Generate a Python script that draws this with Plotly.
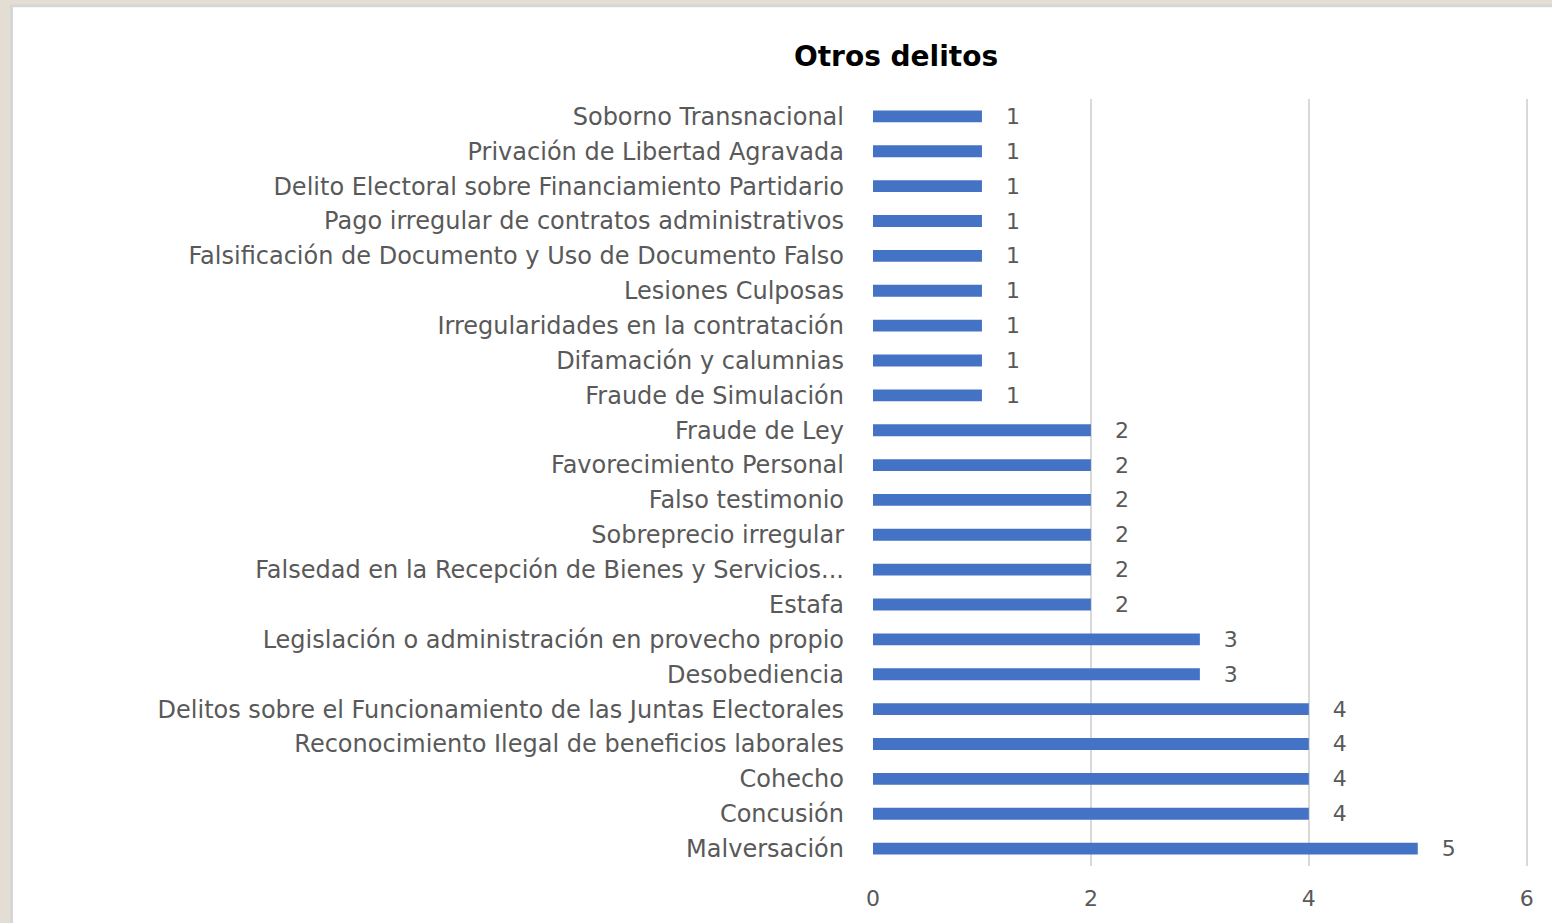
import plotly.graph_objects as go

categories = [
    "Malversación",
    "Concusión",
    "Cohecho",
    "Reconocimiento Ilegal de beneficios laborales",
    "Delitos sobre el Funcionamiento de las Juntas Electorales",
    "Desobediencia",
    "Legislación o administración en provecho propio",
    "Estafa",
    "Falsedad en la Recepción de Bienes y Servicios...",
    "Sobreprecio irregular",
    "Falso testimonio",
    "Favorecimiento Personal",
    "Fraude de Ley",
    "Fraude de Simulación",
    "Difamación y calumnias",
    "Irregularidades en la contratación",
    "Lesiones Culposas",
    "Falsificación de Documento y Uso de Documento Falso",
    "Pago irregular de contratos administrativos",
    "Delito Electoral sobre Financiamiento Partidario",
    "Privación de Libertad Agravada",
    "Soborno Transnacional",
]
values = [5, 4, 4, 4, 4, 3, 3, 2, 2, 2, 2, 2, 2, 1, 1, 1, 1, 1, 1, 1, 1, 1]
x_ticks = [0, 2, 4, 6]

W, H = 1552, 923
L, R, T, B = 873, 22, 99, 54
pw, ph = W - L - R, H - T - B

def px_x(p):
    return (p - L) / pw

def px_y(p):
    return (H - B - p) / ph

FONT = "DejaVu Sans"
GRAY = "#595959"
FS = 24

fig = go.Figure(
    go.Bar(
        x=values,
        y=categories,
        orientation="h",
        marker=dict(color="#4472C4", line=dict(width=0)),
        text=[str(v) for v in values],
        texttemplate="\u00a0\u00a0\u00a0%{text}",
        textposition="outside",
        constraintext="none",
        textfont=dict(family=FONT, size=22, color=GRAY),
        cliponaxis=False,
        hoverinfo="x+y",
    )
)

fig.update_layout(
    width=W,
    height=H,
    margin=dict(l=L, r=R, t=T, b=B, pad=0),
    paper_bgcolor="#E3DDD3",
    plot_bgcolor="rgba(0,0,0,0)",
    bargap=0.66,
    showlegend=False,
    title=dict(
        text="<b>Otros delitos</b>",
        x=px_x(896),
        xref="paper",
        xanchor="center",
        y=1 - 56 / H,
        yanchor="middle",
        font=dict(family=FONT, size=28, color="#000000"),
    ),
    font=dict(family=FONT, color=GRAY),
    shapes=[
        dict(
            type="rect",
            xref="paper",
            yref="paper",
            x0=px_x(11.5),
            x1=px_x(1600),
            y0=px_y(5.5),
            y1=px_y(1000),
            fillcolor="#FFFFFF",
            line=dict(color="#D6D6D6", width=3),
            layer="below",
        )
    ],
)

fig.update_xaxes(
    range=[0, 6.03],
    tickvals=x_ticks,
    ticktext=[str(t) for t in x_ticks],
    showgrid=True,
    gridcolor="#D9D9D9",
    gridwidth=2,
    zeroline=False,
    showline=False,
    ticks="",
    tickfont=dict(family=FONT, size=22, color=GRAY),
    ticklabelstandoff=17,
)
fig.update_yaxes(
    categoryorder="array",
    categoryarray=categories,
    showgrid=False,
    zeroline=False,
    showline=False,
    ticks="",
    tickfont=dict(family=FONT, size=FS, color=GRAY),
    ticklabelstandoff=28,
)

fig.write_html(
    "out.html",
    config={"displayModeBar": False},
    post_script="document.body.style.margin='0px';document.body.style.overflow='hidden';",
)
